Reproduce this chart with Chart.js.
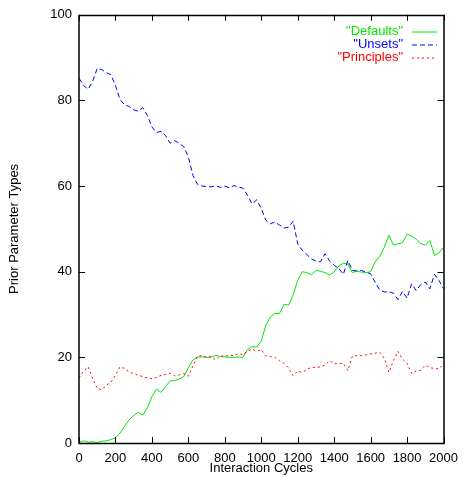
<!DOCTYPE html>
<html lang="en">

<head>
    <meta charset="UTF-8">
    <title>Prior Parameter Types</title>
    <script src="https://cdn.jsdelivr.net/npm/chart.js"></script>
    <style>
        body {
            margin: 0;
            padding: 0;
            background-color: white;
        }

        .chart {
            width: 466px;
            height: 477px;
        }
    </style>
</head>

<body>
    <div class="chart"><canvas id="myChart"></canvas></div>

    <script>
        // interaction cycles (x) shared by the three series
        const cycles = [0, 25, 50, 75, 100, 125, 150, 175, 200, 225, 250, 275, 300, 325, 350, 375, 400,
            425, 450, 475, 500, 525, 550, 575, 600, 625, 650, 675, 700, 725, 750, 775, 800,
            825, 850, 875, 900, 925, 950, 975, 1000, 1025, 1050, 1075, 1100, 1125, 1150, 1175, 1200,
            1225, 1250, 1275, 1300, 1325, 1350, 1375, 1400, 1425, 1450, 1475, 1500, 1525, 1550, 1575, 1600,
            1625, 1650, 1675, 1700, 1725, 1750, 1775, 1800, 1825, 1850, 1875, 1900, 1925, 1950, 1975, 2000];

        const defaults = [0.2, 0.5, 0.2, 0.3, 0.1, 0.4, 0.5, 0.8, 1.2, 2.3, 3.9, 5.4, 6.4, 7.2, 6.5, 8.2, 10.8,
            12.6, 11.8, 13.2, 14.5, 14.6, 14.9, 15.5, 17.6, 19.4, 20.1, 20.1, 20.0, 20.0, 20.5, 20.2, 20.1,
            20.0, 20.0, 20.1, 20.0, 21.8, 22.5, 22.4, 23.8, 27.5, 29.4, 30.3, 30.2, 32.4, 32.2, 34.6, 38.0,
            40.0, 39.8, 39.3, 40.3, 40.1, 39.8, 39.2, 40.0, 41.3, 42.0, 41.8, 39.8, 40.1, 39.9, 39.8, 40.0,
            42.3, 43.6, 45.7, 48.5, 46.2, 46.5, 46.8, 48.8, 48.3, 47.6, 46.6, 46.2, 47.3, 43.8, 44.4, 45.7];

        const unsets = [85.2, 83.5, 82.6, 84.5, 87.5, 87.2, 86.5, 86.0, 83.5, 80.2, 79.0, 78.6, 77.8, 77.5, 78.3, 76.5, 73.8,
            72.5, 72.8, 71.8, 70.0, 70.6, 70.0, 69.2, 66.8, 62.5, 60.4, 60.0, 59.9, 59.8, 60.1, 59.7, 60.0,
            59.6, 60.1, 59.8, 59.5, 57.8, 55.8, 56.8, 54.8, 52.0, 51.2, 51.6, 50.9, 50.2, 50.4, 51.8, 46.5,
            45.0, 44.0, 43.0, 42.5, 42.3, 44.2, 42.5, 41.5, 40.8, 39.4, 42.6, 40.3, 40.2, 40.3, 39.9, 39.5,
            37.5, 35.7, 35.3, 35.3, 35.0, 33.5, 35.4, 33.8, 37.2, 35.6, 37.0, 37.6, 36.0, 39.4, 38.0, 36.0];

        const principles = [15.2, 16.8, 17.8, 15.0, 12.8, 12.4, 13.5, 14.2, 15.8, 17.8, 17.4, 16.6, 16.2, 15.8, 15.5, 15.2, 15.0,
            15.3, 15.8, 16.0, 16.3, 15.7, 15.9, 16.2, 15.6, 18.0, 20.3, 20.4, 20.0, 20.2, 19.4, 20.4, 20.2,
            20.5, 20.4, 20.9, 20.6, 21.5, 21.9, 21.4, 21.8, 20.4, 20.2, 20.0, 19.2, 18.6, 17.5, 15.7, 16.8,
            16.5, 17.2, 17.7, 17.6, 17.8, 18.2, 19.2, 18.5, 18.6, 18.6, 16.9, 20.3, 20.4, 20.4, 20.6, 20.8,
            21.0, 21.2, 19.8, 16.5, 19.2, 21.4, 19.6, 18.6, 16.2, 16.8, 17.0, 18.2, 17.6, 17.4, 17.3, 18.4];

        const xTicks = [0, 200, 400, 600, 800, 1000, 1200, 1400, 1600, 1800, 2000];
        const yTicks = [0, 20, 40, 60, 80, 100];

        const FONT = '"Liberation Sans", Arial, Helvetica, sans-serif';

        function toPoints(values) {
            return values.map((v, i) => ({ x: cycles[i], y: v }));
        }

        const series = [
            { label: '"Defaults"', data: defaults, color: '#00e800', dash: [] },
            { label: '"Unsets"', data: unsets, color: '#0000ff', dash: [5, 3] },
            { label: '"Principles"', data: principles, color: '#ff0000', dash: [2, 3] }
        ];

        // gnuplot style frame, inward ticks on all sides and the key
        const frame = {
            id: 'frame',
            afterDatasetsDraw(chart) {
                const { ctx, chartArea: a, scales } = chart;
                ctx.save();
                ctx.strokeStyle = '#000';
                ctx.lineWidth = 1;
                ctx.setLineDash([]);
                ctx.beginPath();
                scales.x.ticks.forEach(t => {
                    const px = Math.round(scales.x.getPixelForValue(t.value)) + 0.5;
                    ctx.moveTo(px, a.bottom); ctx.lineTo(px, a.bottom - 6);
                    ctx.moveTo(px, a.top); ctx.lineTo(px, a.top + 6);
                });
                scales.y.ticks.forEach(t => {
                    const py = Math.round(scales.y.getPixelForValue(t.value)) + 0.5;
                    ctx.moveTo(a.left, py); ctx.lineTo(a.left + 6, py);
                    ctx.moveTo(a.right, py); ctx.lineTo(a.right - 6, py);
                });
                ctx.stroke();
                ctx.lineWidth = 1.5;
                ctx.strokeRect(Math.round(a.left), Math.round(a.top) + 0.5,
                    Math.round(a.right - a.left), Math.round(a.bottom - a.top));

                // key
                ctx.font = '13px ' + FONT;
                ctx.textAlign = 'right';
                ctx.textBaseline = 'middle';
                ctx.lineWidth = 1;
                series.forEach((s, i) => {
                    const ky = 31.5 + i * 13;
                    ctx.fillStyle = s.color;
                    ctx.fillText(s.label, 403, ky);
                    ctx.strokeStyle = s.color;
                    ctx.setLineDash(s.dash);
                    ctx.beginPath();
                    ctx.moveTo(412, ky + 0.5);
                    ctx.lineTo(437, ky + 0.5);
                    ctx.stroke();
                });
                ctx.restore();
            }
        };

        const ctx = document.getElementById('myChart').getContext('2d');
        new Chart(ctx, {
            type: 'line',
            data: {
                datasets: series.map((s, i) => ({
                    label: s.label,
                    data: toPoints(s.data),
                    borderColor: s.color,
                    borderWidth: 1,
                    borderDash: s.dash,
                    pointRadius: 0,
                    tension: 0,
                    fill: false,
                    order: 2 - i
                }))
            },
            options: {
                responsive: true,
                maintainAspectRatio: false,
                animation: false,
                layout: {
                    padding: { left: 0, right: 17, top: 13, bottom: 0 }
                },
                plugins: {
                    legend: { display: false },
                    tooltip: { enabled: false }
                },
                scales: {
                    x: {
                        type: 'linear',
                        min: 0,
                        max: 2000,
                        afterBuildTicks: s => { s.ticks = xTicks.map(v => ({ value: v })); },
                        afterFit: s => { s.height = 34; },
                        grid: { display: false, drawTicks: false },
                        border: { display: false },
                        ticks: {
                            padding: 8,
                            maxRotation: 0,
                            color: '#000',
                            callback: v => String(v),
                            font: { family: FONT, size: 13 }
                        },
                        title: {
                            display: true,
                            text: 'Interaction Cycles',
                            color: '#000',
                            padding: { top: 0, bottom: 1 },
                            font: { family: FONT, size: 13 }
                        }
                    },
                    y: {
                        min: 0,
                        max: 100,
                        afterBuildTicks: s => { s.ticks = yTicks.map(v => ({ value: v })); },
                        afterFit: s => { s.width = 79; },
                        grid: { display: false, drawTicks: false },
                        border: { display: false },
                        ticks: {
                            padding: 7,
                            color: '#000',
                            callback: v => String(v),
                            font: { family: FONT, size: 13 }
                        },
                        title: {
                            display: true,
                            text: 'Prior Parameter Types',
                            color: '#000',
                            padding: { top: 7, bottom: 0 },
                            font: { family: FONT, size: 13 }
                        }
                    }
                }
            },
            plugins: [frame]
        });
    </script>
</body>

</html>
